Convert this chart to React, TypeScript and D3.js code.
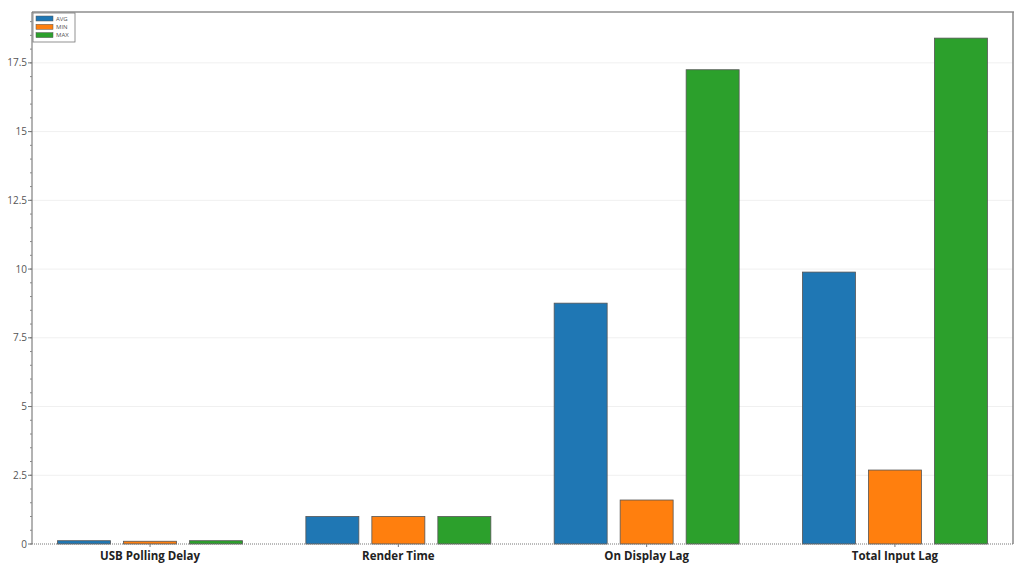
import React, { useEffect, useRef } from 'react'
import * as d3 from 'd3'

const categories = ['USB Polling Delay', 'Render Time', 'On Display Lag', 'Total Input Lag']
const seriesNames = ['AVG', 'MIN', 'MAX']
const avgValues = [0.12, 1.0, 8.76, 9.89]
const minValues = [0.1, 1.0, 1.6, 2.69]
const maxValues = [0.12, 1.0, 17.25, 18.4]
const seriesColors = ['#1f77b4', '#ff7f0e', '#2ca02c']
const yTicks = [0, 2.5, 5, 7.5, 10, 12.5, 15, 17.5]

export default function App() {
  const svgRef = useRef<SVGSVGElement>(null)

  useEffect(() => {
    const svg = d3.select(svgRef.current)
    svg.selectAll('*').remove()

    const width = 1024
    const height = 576
    const left = 32
    const right = 1013
    const top = 12
    const bottom = 544

    const series = [avgValues, minValues, maxValues]

    const x0 = d3.scaleBand<string>()
      .domain(categories)
      .range([left, right])
      .paddingInner(0.255)
      .paddingOuter(0.103)

    const x1 = d3.scaleBand<string>()
      .domain(seriesNames)
      .range([0, x0.bandwidth()])
      .paddingInner(0.197)
      .paddingOuter(0)

    const y = d3.scaleLinear().domain([0, 19.35]).range([bottom, top])

    svg.attr('width', width).attr('height', height)
      .style('font-family', '"Open Sans", "Noto Sans", sans-serif')

    // grid
    svg.append('g')
      .selectAll('line')
      .data(yTicks.filter(t => t > 0))
      .join('line')
      .attr('x1', left).attr('x2', right)
      .attr('y1', d => y(d)).attr('y2', d => y(d))
      .attr('stroke', '#f0f0f0')
      .attr('stroke-width', 1)

    // bars
    categories.forEach((cat, ci) => {
      const g = svg.append('g').attr('transform', `translate(${x0(cat)},0)`)
      seriesNames.forEach((s, si) => {
        const v = series[si][ci]
        g.append('rect')
          .attr('x', x1(s)!)
          .attr('y', y(v))
          .attr('width', x1.bandwidth())
          .attr('height', y(0) - y(v))
          .attr('fill', seriesColors[si])
          .attr('stroke', '#555')
          .attr('stroke-width', 0.8)
      })
    })

    // frame top/right
    svg.append('line')
      .attr('x1', left).attr('x2', right + 1).attr('y1', top).attr('y2', top)
      .attr('stroke', '#aaa').attr('stroke-width', 2)
    svg.append('line')
      .attr('x1', right).attr('x2', right).attr('y1', top).attr('y2', bottom)
      .attr('stroke', '#888').attr('stroke-width', 1.5)

    // x axis (dotted baseline)
    svg.append('line')
      .attr('x1', left).attr('x2', right).attr('y1', bottom).attr('y2', bottom)
      .attr('stroke', '#777').attr('stroke-width', 1)
      .attr('stroke-dasharray', '1,1')

    svg.append('g')
      .selectAll('line')
      .data(categories)
      .join('line')
      .attr('x1', d => x0(d)! + x0.bandwidth() / 2)
      .attr('x2', d => x0(d)! + x0.bandwidth() / 2)
      .attr('y1', bottom).attr('y2', bottom + 3)
      .attr('stroke', '#777')

    svg.append('g')
      .selectAll('text')
      .data(categories)
      .join('text')
      .attr('x', d => x0(d)! + x0.bandwidth() / 2)
      .attr('y', bottom + 16)
      .attr('text-anchor', 'middle')
      .style('font-size', '11.5px')
      .style('font-weight', '700')
      .style('fill', '#222')
      .text(d => d)

    // y axis
    const yAxis = svg.append('g').attr('transform', `translate(${left},0)`)
    yAxis.append('line')
      .attr('x1', 0).attr('x2', 0).attr('y1', top).attr('y2', bottom)
      .attr('stroke', '#666').attr('stroke-width', 1)
    yAxis.selectAll('line.minor')
      .data(d3.range(0, 19.01, 0.5))
      .join('line')
      .attr('class', 'minor')
      .attr('x1', -2).attr('x2', 0)
      .attr('y1', d => y(d)).attr('y2', d => y(d))
      .attr('stroke', '#888')
    yAxis.selectAll('line.major')
      .data(yTicks)
      .join('line')
      .attr('class', 'major')
      .attr('x1', -4).attr('x2', 0)
      .attr('y1', d => y(d)).attr('y2', d => y(d))
      .attr('stroke', '#777')
    yAxis.selectAll('text')
      .data(yTicks)
      .join('text')
      .attr('x', -5)
      .attr('y', d => y(d))
      .attr('dy', '0.35em')
      .attr('text-anchor', 'end')
      .style('font-size', '10px')
      .style('fill', '#555')
      .text(d => String(d))

    // legend
    const lg = svg.append('g').attr('transform', `translate(${left + 1},${top + 1})`)
    lg.append('rect')
      .attr('x', 0).attr('y', 0).attr('width', 42).attr('height', 29)
      .attr('fill', '#fff').attr('stroke', '#777').attr('stroke-width', 0.8)
    seriesNames.forEach((s, i) => {
      lg.append('rect')
        .attr('x', 3).attr('y', 3 + i * 8.3)
        .attr('width', 17).attr('height', 5)
        .attr('fill', seriesColors[i])
        .attr('stroke', '#555').attr('stroke-width', 0.5)
      lg.append('text')
        .attr('x', 23).attr('y', 5.7 + i * 8.3)
        .attr('dy', '0.35em')
        .style('font-size', '6px')
        .style('fill', '#555')
        .text(s)
    })
  }, [])

  return (
    <div style={{ position: 'absolute', left: 0, top: 0 }}>
      <svg ref={svgRef} style={{ display: 'block' }} />
    </div>
  )
}
